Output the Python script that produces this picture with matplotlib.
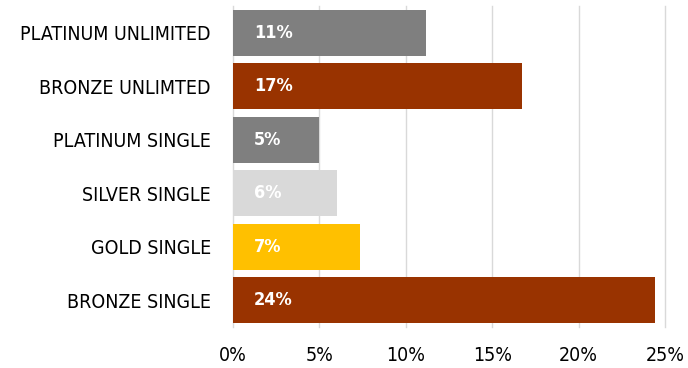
import matplotlib.pyplot as plt

categories = ["PLATINUM UNLIMITED", "BRONZE UNLIMTED", "PLATINUM SINGLE",
              "SILVER SINGLE", "GOLD SINGLE", "BRONZE SINGLE"]
values = [11.15, 16.75, 5.0, 6.0, 7.35, 24.4]
labels = ["11%", "17%", "5%", "6%", "7%", "24%"]
colors = ["#7F7F7F", "#993300", "#7F7F7F", "#D9D9D9", "#FFC000", "#993300"]
xticks = [0, 5, 10, 15, 20, 25]

plt.rcParams['font.family'] = ['DejaVu Sans']
plt.rcParams['font.stretch'] = 'condensed'

fig = plt.figure(figsize=(6.88, 3.68), dpi=100)
ax = fig.add_axes([233/688, 1 - 327/368, (665-233)/688, (327-6)/368])

y = list(range(len(categories)))
ax.barh(y, values, height=0.86, color=colors, zorder=2)
for yi, v, lab in zip(y, values, labels):
    ax.text(1.2, yi, lab, color="white", fontsize=13, fontweight="bold",
            fontstretch="condensed", va="center", ha="left", zorder=3)

ax.set_ylim(len(categories) - 0.5, -0.5)
ax.set_xlim(0, 25)
ax.set_yticks(y)
ax.set_yticklabels(categories, fontsize=14, color="black", fontstretch="condensed")
ax.set_xticks(xticks)
ax.set_xticklabels([f"{t}%" for t in xticks], fontsize=14, color="black",
                   fontstretch="condensed")
ax.tick_params(axis="both", length=0)
ax.tick_params(axis="y", pad=16)
ax.tick_params(axis="x", pad=14)
ax.grid(axis="x", color="#D9D9D9", linewidth=1, zorder=0)
for gl in ax.get_xgridlines():
    gl.set_clip_on(False)
for s in ax.spines.values():
    s.set_visible(False)

fig.savefig("out.png", dpi=100)
